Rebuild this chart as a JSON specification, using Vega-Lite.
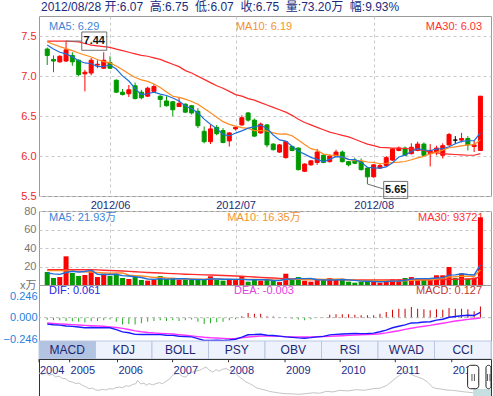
{
"$schema": "https://vega.github.io/schema/vega-lite/v6.json",
"padding": 0,
"background": "white",
"bounds": "flush",
"spacing": 15,
"config": {
  "font": "Liberation Sans, Noto Sans CJK SC, sans-serif",
  "view": {"stroke": "#9a9a9a"},
  "axis": {"domain": false, "ticks": false, "labelFontSize": 11, "title": null, "gridDash": [3, 3], "gridColor": "#c8c8c8", "labelOverlap": false}
},
"datasets": {
"d": [
{"i":0,"o":7.34,"h":7.36,"l":7.14,"c":7.26,"m5":7.39,"m10":7.43,"m30":7.44,"v":14.0,"v5":13.0,"v10":15.5,"v30":16.5,"dif":-0.073,"dea":-0.060,"mh":-0.025},
{"i":1,"o":7.21,"h":7.26,"l":7.05,"c":7.19,"m5":7.34,"m10":7.40,"m30":7.44,"v":7.6,"v5":12.0,"v10":15.5,"v30":16.5,"dif":-0.080,"dea":-0.065,"mh":-0.030},
{"i":2,"o":7.18,"h":7.26,"l":7.17,"c":7.25,"m5":7.30,"m10":7.37,"m30":7.44,"v":8.6,"v5":11.5,"v10":15.5,"v30":16.5,"dif":-0.085,"dea":-0.070,"mh":-0.030},
{"i":3,"o":7.19,"h":7.44,"l":7.18,"c":7.33,"m5":7.28,"m10":7.345,"m30":7.44,"v":31.0,"v5":13.5,"v10":15.3,"v30":16.5,"dif":-0.094,"dea":-0.075,"mh":-0.037},
{"i":4,"o":7.26,"h":7.30,"l":7.13,"c":7.18,"m5":7.242,"m10":7.32,"m30":7.435,"v":13.0,"v5":14.84,"v10":15.0,"v30":16.5,"dif":-0.099,"dea":-0.079,"mh":-0.040},
{"i":5,"o":7.20,"h":7.21,"l":7.00,"c":7.02,"m5":7.194,"m10":7.29,"m30":7.43,"v":9.8,"v5":14.0,"v10":14.5,"v30":16.5,"dif":-0.106,"dea":-0.083,"mh":-0.045},
{"i":6,"o":7.03,"h":7.08,"l":6.81,"c":7.05,"m5":7.166,"m10":7.265,"m30":7.41,"v":10.8,"v5":14.64,"v10":14.2,"v30":16.5,"dif":-0.115,"dea":-0.087,"mh":-0.056},
{"i":7,"o":7.04,"h":7.23,"l":7.01,"c":7.20,"m5":7.156,"m10":7.24,"m30":7.39,"v":15.5,"v5":16.02,"v10":14.0,"v30":16.5,"dif":-0.111,"dea":-0.091,"mh":-0.040},
{"i":8,"o":7.14,"h":7.20,"l":7.10,"c":7.15,"m5":7.12,"m10":7.21,"m30":7.38,"v":8.6,"v5":11.54,"v10":13.5,"v30":16.3,"dif":-0.114,"dea":-0.095,"mh":-0.037},
{"i":9,"o":7.10,"h":7.30,"l":7.09,"c":7.20,"m5":7.124,"m10":7.183,"m30":7.37,"v":12.2,"v5":11.38,"v10":13.11,"v30":16.0,"dif":-0.113,"dea":-0.098,"mh":-0.030},
{"i":10,"o":7.17,"h":7.25,"l":7.09,"c":7.10,"m5":7.14,"m10":7.167,"m30":7.36,"v":9.8,"v5":11.38,"v10":12.69,"v30":15.7,"dif":-0.115,"dea":-0.104,"mh":-0.022},
{"i":11,"o":6.95,"h":6.96,"l":6.79,"c":6.80,"m5":7.09,"m10":7.128,"m30":7.34,"v":12.2,"v5":11.66,"v10":13.15,"v30":15.4,"dif":-0.135,"dea":-0.112,"mh":-0.045},
{"i":12,"o":6.80,"h":6.84,"l":6.76,"c":6.77,"m5":7.004,"m10":7.08,"m30":7.32,"v":7.6,"v5":10.08,"v10":13.05,"v30":15.1,"dif":-0.162,"dea":-0.122,"mh":-0.079},
{"i":13,"o":6.78,"h":6.89,"l":6.74,"c":6.83,"m5":6.94,"m10":7.03,"m30":7.30,"v":6.5,"v5":9.66,"v10":10.6,"v30":14.7,"dif":-0.171,"dea":-0.135,"mh":-0.071},
{"i":14,"o":6.88,"h":6.92,"l":6.71,"c":6.72,"m5":6.844,"m10":6.984,"m30":7.28,"v":8.6,"v5":8.94,"v10":10.16,"v30":14.3,"dif":-0.190,"dea":-0.150,"mh":-0.079},
{"i":15,"o":6.80,"h":6.83,"l":6.71,"c":6.73,"m5":6.77,"m10":6.955,"m30":7.26,"v":5.4,"v5":8.06,"v10":9.72,"v30":13.9,"dif":-0.192,"dea":-0.160,"mh":-0.064},
{"i":16,"o":6.75,"h":6.87,"l":6.74,"c":6.85,"m5":6.78,"m10":6.935,"m30":7.25,"v":4.7,"v5":6.56,"v10":9.11,"v30":13.5,"dif":-0.191,"dea":-0.168,"mh":-0.045},
{"i":17,"o":6.81,"h":6.90,"l":6.80,"c":6.87,"m5":6.80,"m10":6.902,"m30":7.23,"v":5.4,"v5":6.12,"v10":8.1,"v30":13.2,"dif":-0.193,"dea":-0.174,"mh":-0.037},
{"i":18,"o":6.75,"h":6.76,"l":6.61,"c":6.71,"m5":6.776,"m10":6.858,"m30":7.21,"v":9.7,"v5":6.76,"v10":8.21,"v30":12.9,"dif":-0.193,"dea":-0.178,"mh":-0.030},
{"i":19,"o":6.69,"h":6.75,"l":6.62,"c":6.63,"m5":6.758,"m10":6.801,"m30":7.18,"v":6.5,"v5":6.34,"v10":7.64,"v30":12.6,"dif":-0.200,"dea":-0.181,"mh":-0.037},
{"i":20,"o":6.68,"h":6.69,"l":6.50,"c":6.58,"m5":6.728,"m10":6.749,"m30":7.15,"v":6.5,"v5":6.56,"v10":7.31,"v30":12.3,"dif":-0.201,"dea":-0.186,"mh":-0.030},
{"i":21,"o":6.62,"h":6.73,"l":6.62,"c":6.66,"m5":6.69,"m10":6.735,"m30":7.12,"v":5.8,"v5":6.78,"v10":6.67,"v30":12.0,"dif":-0.211,"dea":-0.192,"mh":-0.037},
{"i":22,"o":6.65,"h":6.66,"l":6.54,"c":6.55,"m5":6.626,"m10":6.713,"m30":7.07,"v":5.8,"v5":6.86,"v10":6.49,"v30":11.7,"dif":-0.215,"dea":-0.200,"mh":-0.030},
{"i":23,"o":6.63,"h":6.64,"l":6.52,"c":6.54,"m5":6.592,"m10":6.684,"m30":7.04,"v":5.8,"v5":6.08,"v10":6.42,"v30":11.5,"dif":-0.218,"dea":-0.207,"mh":-0.022},
{"i":24,"o":6.56,"h":6.60,"l":6.35,"c":6.38,"m5":6.542,"m10":6.65,"m30":7.00,"v":5.8,"v5":5.94,"v10":6.14,"v30":11.2,"dif":-0.238,"dea":-0.215,"mh":-0.045},
{"i":25,"o":6.31,"h":6.37,"l":6.16,"c":6.18,"m5":6.462,"m10":6.595,"m30":6.96,"v":5.8,"v5":5.8,"v10":6.18,"v30":11.0,"dif":-0.259,"dea":-0.223,"mh":-0.071},
{"i":26,"o":6.18,"h":6.39,"l":6.15,"c":6.34,"m5":6.398,"m10":6.544,"m30":6.92,"v":9.4,"v5":6.52,"v10":6.65,"v30":10.8,"dif":-0.260,"dea":-0.228,"mh":-0.064},
{"i":27,"o":6.36,"h":6.39,"l":6.26,"c":6.28,"m5":6.344,"m10":6.485,"m30":6.88,"v":5.4,"v5":6.44,"v10":6.65,"v30":10.5,"dif":-0.257,"dea":-0.231,"mh":-0.052},
{"i":28,"o":6.32,"h":6.35,"l":6.16,"c":6.17,"m5":6.27,"m10":6.431,"m30":6.85,"v":4.7,"v5":6.22,"v10":6.15,"v30":10.3,"dif":-0.258,"dea":-0.235,"mh":-0.045},
{"i":29,"o":6.19,"h":6.30,"l":6.12,"c":6.29,"m5":6.252,"m10":6.397,"m30":6.81,"v":5.4,"v5":6.14,"v10":6.04,"v30":10.0,"dif":-0.253,"dea":-0.238,"mh":-0.030},
{"i":30,"o":6.34,"h":6.37,"l":6.32,"c":6.36,"m5":6.288,"m10":6.375,"m30":6.77,"v":5.4,"v5":6.06,"v10":5.93,"v30":9.7,"dif":-0.245,"dea":-0.236,"mh":-0.018},
{"i":31,"o":6.39,"h":6.51,"l":6.38,"c":6.48,"m5":6.316,"m10":6.357,"m30":6.75,"v":9.4,"v5":6.06,"v10":6.29,"v30":9.4,"dif":-0.222,"dea":-0.230,"mh":0.016},
{"i":32,"o":6.54,"h":6.55,"l":6.43,"c":6.45,"m5":6.35,"m10":6.347,"m30":6.72,"v":3.6,"v5":5.7,"v10":6.07,"v30":9.0,"dif":-0.194,"dea":-0.220,"mh":0.053},
{"i":33,"o":6.45,"h":6.47,"l":6.24,"c":6.25,"m5":6.366,"m10":6.318,"m30":6.70,"v":5.4,"v5":5.84,"v10":6.03,"v30":8.6,"dif":-0.192,"dea":-0.214,"mh":0.045},
{"i":34,"o":6.29,"h":6.42,"l":6.28,"c":6.40,"m5":6.388,"m10":6.32,"m30":6.67,"v":4.7,"v5":5.7,"v10":5.92,"v30":8.2,"dif":-0.188,"dea":-0.210,"mh":0.045},
{"i":35,"o":6.39,"h":6.40,"l":6.11,"c":6.14,"m5":6.344,"m10":6.316,"m30":6.64,"v":5.8,"v5":5.78,"v10":5.92,"v30":7.9,"dif":-0.200,"dea":-0.208,"mh":0.016},
{"i":36,"o":6.15,"h":6.16,"l":6.07,"c":6.08,"m5":6.264,"m10":6.29,"m30":6.61,"v":5.0,"v5":4.9,"v10":5.48,"v30":7.5,"dif":-0.203,"dea":-0.209,"mh":0.012},
{"i":37,"o":6.05,"h":6.15,"l":6.04,"c":6.14,"m5":6.202,"m10":6.276,"m30":6.58,"v":3.2,"v5":4.82,"v10":5.26,"v30":7.2,"dif":-0.210,"dea":-0.212,"mh":0.005},
{"i":38,"o":5.98,"h":6.19,"l":5.97,"c":6.18,"m5":6.188,"m10":6.277,"m30":6.55,"v":12.2,"v5":6.18,"v10":6.01,"v30":6.9,"dif":-0.218,"dea":-0.215,"mh":-0.005},
{"i":39,"o":6.12,"h":6.13,"l":6.06,"c":6.07,"m5":6.122,"m10":6.255,"m30":6.51,"v":5.8,"v5":6.4,"v10":6.05,"v30":6.6,"dif":-0.224,"dea":-0.218,"mh":-0.011},
{"i":40,"o":6.10,"h":6.11,"l":5.82,"c":5.83,"m5":6.06,"m10":6.202,"m30":6.46,"v":8.6,"v5":6.96,"v10":6.37,"v30":6.3,"dif":-0.230,"dea":-0.219,"mh":-0.022},
{"i":41,"o":5.81,"h":5.91,"l":5.80,"c":5.90,"m5":6.024,"m10":6.144,"m30":6.42,"v":4.7,"v5":6.9,"v10":5.9,"v30":6.1,"dif":-0.234,"dea":-0.219,"mh":-0.030},
{"i":42,"o":5.89,"h":5.95,"l":5.88,"c":5.94,"m5":5.984,"m10":6.093,"m30":6.39,"v":3.6,"v5":6.98,"v10":5.9,"v30":6.0,"dif":-0.227,"dea":-0.218,"mh":-0.018},
{"i":43,"o":5.92,"h":6.09,"l":5.89,"c":6.05,"m5":5.958,"m10":6.073,"m30":6.36,"v":5.4,"v5":5.62,"v10":5.9,"v30":5.9,"dif":-0.218,"dea":-0.216,"mh":-0.003},
{"i":44,"o":6.01,"h":6.02,"l":5.91,"c":5.92,"m5":5.928,"m10":6.025,"m30":6.33,"v":5.4,"v5":5.54,"v10":5.97,"v30":5.8,"dif":-0.213,"dea":-0.214,"mh":0.003},
{"i":45,"o":5.93,"h":6.02,"l":5.92,"c":6.00,"m5":5.962,"m10":6.011,"m30":6.30,"v":7.6,"v5":5.34,"v10":6.15,"v30":5.7,"dif":-0.195,"dea":-0.212,"mh":0.034},
{"i":46,"o":6.00,"h":6.08,"l":5.99,"c":6.05,"m5":5.992,"m10":6.008,"m30":6.28,"v":5.8,"v5":5.56,"v10":6.23,"v30":5.6,"dif":-0.190,"dea":-0.209,"mh":0.038},
{"i":47,"o":6.05,"h":6.07,"l":5.92,"c":5.93,"m5":5.99,"m10":5.987,"m30":6.26,"v":5.4,"v5":5.92,"v10":6.45,"v30":5.6,"dif":-0.186,"dea":-0.205,"mh":0.038},
{"i":48,"o":5.93,"h":5.94,"l":5.87,"c":5.89,"m5":5.958,"m10":5.958,"m30":6.24,"v":3.6,"v5":5.56,"v10":5.59,"v30":5.5,"dif":-0.182,"dea":-0.201,"mh":0.038},
{"i":49,"o":5.95,"h":5.98,"l":5.90,"c":5.91,"m5":5.956,"m10":5.942,"m30":6.21,"v":2.5,"v5":4.98,"v10":5.26,"v30":5.5,"dif":-0.180,"dea":-0.197,"mh":0.034},
{"i":50,"o":5.93,"h":5.97,"l":5.82,"c":5.83,"m5":5.922,"m10":5.942,"m30":6.18,"v":3.6,"v5":4.18,"v10":4.76,"v30":5.4,"dif":-0.181,"dea":-0.194,"mh":0.027},
{"i":51,"o":5.85,"h":5.86,"l":5.65,"c":5.74,"m5":5.86,"m10":5.926,"m30":6.15,"v":5.4,"v5":4.1,"v10":4.83,"v30":5.4,"dif":-0.179,"dea":-0.192,"mh":0.027},
{"i":52,"o":5.74,"h":5.90,"l":5.73,"c":5.89,"m5":5.852,"m10":5.921,"m30":6.13,"v":3.6,"v5":3.74,"v10":4.83,"v30":5.4,"dif":-0.175,"dea":-0.188,"mh":0.027},
{"i":53,"o":5.85,"h":5.90,"l":5.84,"c":5.88,"m5":5.85,"m10":5.904,"m30":6.11,"v":2.5,"v5":3.52,"v10":4.54,"v30":5.4,"dif":-0.160,"dea":-0.182,"mh":0.045},
{"i":54,"o":5.88,"h":6.00,"l":5.87,"c":5.98,"m5":5.864,"m10":5.91,"m30":6.105,"v":3.6,"v5":3.74,"v10":4.36,"v30":5.4,"dif":-0.141,"dea":-0.173,"mh":0.064},
{"i":55,"o":5.95,"h":6.10,"l":5.94,"c":6.09,"m5":5.916,"m10":5.919,"m30":6.10,"v":6.1,"v5":4.24,"v10":4.21,"v30":5.4,"dif":-0.115,"dea":-0.160,"mh":0.091},
{"i":56,"o":6.07,"h":6.12,"l":6.06,"c":6.10,"m5":5.988,"m10":5.924,"m30":6.10,"v":6.1,"v5":4.38,"v10":4.24,"v30":5.4,"dif":-0.097,"dea":-0.148,"mh":0.102},
{"i":57,"o":6.10,"h":6.12,"l":6.00,"c":6.01,"m5":6.012,"m10":5.932,"m30":6.095,"v":7.6,"v5":5.18,"v10":4.46,"v30":5.4,"dif":-0.082,"dea":-0.133,"mh":0.102},
{"i":58,"o":6.03,"h":6.16,"l":6.02,"c":6.11,"m5":6.058,"m10":5.954,"m30":6.09,"v":8.6,"v5":6.4,"v10":4.96,"v30":5.5,"dif":-0.060,"dea":-0.120,"mh":0.121},
{"i":59,"o":6.07,"h":6.18,"l":6.06,"c":6.15,"m5":6.092,"m10":5.978,"m30":6.08,"v":6.1,"v5":6.9,"v10":5.32,"v30":5.5,"dif":-0.057,"dea":-0.108,"mh":0.102},
{"i":60,"o":6.15,"h":6.17,"l":6.00,"c":6.01,"m5":6.076,"m10":5.996,"m30":6.07,"v":6.0,"v5":6.88,"v10":5.56,"v30":5.6,"dif":-0.050,"dea":-0.097,"mh":0.095},
{"i":61,"o":6.03,"h":6.15,"l":5.87,"c":6.07,"m5":6.07,"m10":6.029,"m30":6.05,"v":7.0,"v5":7.06,"v10":5.72,"v30":5.7,"dif":-0.046,"dea":-0.087,"mh":0.083},
{"i":62,"o":6.05,"h":6.13,"l":6.01,"c":6.10,"m5":6.088,"m10":6.05,"m30":6.04,"v":10.5,"v5":7.64,"v10":6.41,"v30":5.8,"dif":-0.028,"dea":-0.075,"mh":0.095},
{"i":63,"o":6.01,"h":6.16,"l":5.97,"c":6.13,"m5":6.092,"m10":6.075,"m30":6.03,"v":10.5,"v5":8.02,"v10":7.21,"v30":5.9,"dif":-0.018,"dea":-0.063,"mh":0.091},
{"i":64,"o":6.14,"h":6.29,"l":6.13,"c":6.27,"m5":6.116,"m10":6.104,"m30":6.025,"v":19.5,"v5":10.7,"v10":8.8,"v30":6.1,"dif":0.005,"dea":-0.050,"mh":0.110},
{"i":65,"o":6.20,"h":6.25,"l":6.15,"c":6.20,"m5":6.154,"m10":6.115,"m30":6.02,"v":7.5,"v5":11.0,"v10":8.94,"v30":6.2,"dif":0.013,"dea":-0.038,"mh":0.102},
{"i":66,"o":6.20,"h":6.29,"l":6.17,"c":6.22,"m5":6.184,"m10":6.127,"m30":6.015,"v":12.5,"v5":12.1,"v10":9.58,"v30":6.4,"dif":0.021,"dea":-0.030,"mh":0.102},
{"i":67,"o":6.22,"h":6.25,"l":6.07,"c":6.14,"m5":6.192,"m10":6.14,"m30":6.01,"v":7.0,"v5":11.4,"v10":9.52,"v30":6.5,"dif":0.028,"dea":-0.020,"mh":0.095},
{"i":68,"o":6.12,"h":6.19,"l":6.05,"c":6.14,"m5":6.194,"m10":6.143,"m30":6.01,"v":8.0,"v5":10.9,"v10":9.46,"v30":6.7,"dif":0.024,"dea":-0.012,"mh":0.072},
{"i":69,"o":6.07,"h":6.75,"l":6.07,"c":6.75,"m5":6.29,"m10":6.203,"m30":6.03,"v":73.2,"v5":21.64,"v10":16.17,"v30":9.37,"dif":0.061,"dea":-0.003,"mh":0.127}
],
"ov": [
{"yr":2004.59,"p":24.9},{"yr":2004.65,"p":23.0},{"yr":2004.71,"p":25.5},{"yr":2004.77,"p":22.4},{"yr":2004.83,"p":23.5},{"yr":2004.89,"p":20.5},{"yr":2004.95,"p":21.5},{"yr":2005.01,"p":19.0},{"yr":2005.07,"p":18.7},{"yr":2005.13,"p":16.0},{"yr":2005.19,"p":15.1},{"yr":2005.25,"p":13.5},{"yr":2005.31,"p":14.0},{"yr":2005.37,"p":11.5},{"yr":2005.43,"p":10.0},{"yr":2005.49,"p":7.9},{"yr":2005.55,"p":8.5},{"yr":2005.61,"p":6.5},{"yr":2005.67,"p":6.1},{"yr":2005.73,"p":7.2},{"yr":2005.79,"p":6.5},{"yr":2005.85,"p":7.9},{"yr":2005.91,"p":7.5},{"yr":2005.97,"p":9.0},{"yr":2006.03,"p":9.7},{"yr":2006.09,"p":9.0},{"yr":2006.15,"p":11.0},{"yr":2006.21,"p":10.5},{"yr":2006.27,"p":12.5},{"yr":2006.33,"p":13.3},{"yr":2006.36,"p":16.9},{"yr":2006.42,"p":13.0},{"yr":2006.48,"p":14.0},{"yr":2006.51,"p":11.5},{"yr":2006.57,"p":13.5},{"yr":2006.63,"p":12.0},{"yr":2006.69,"p":13.3},{"yr":2006.75,"p":14.5},{"yr":2006.81,"p":13.3},{"yr":2006.87,"p":16.0},{"yr":2006.93,"p":18.0},{"yr":2006.99,"p":22.4},{"yr":2007.05,"p":24.0},{"yr":2007.11,"p":24.1},{"yr":2007.17,"p":21.0},{"yr":2007.23,"p":20.5},{"yr":2007.29,"p":25.0},{"yr":2007.35,"p":25.9},{"yr":2007.41,"p":27.0},{"yr":2007.47,"p":27.7},{"yr":2007.53,"p":29.5},{"yr":2007.59,"p":31.4},{"yr":2007.65,"p":28.0},{"yr":2007.71,"p":25.9},{"yr":2007.77,"p":28.5},{"yr":2007.83,"p":27.0},{"yr":2007.89,"p":29.0},{"yr":2007.95,"p":29.6},{"yr":2008.01,"p":28.0},{"yr":2008.07,"p":27.7},{"yr":2008.13,"p":24.0},{"yr":2008.19,"p":20.5},{"yr":2008.25,"p":18.0},{"yr":2008.31,"p":15.1},{"yr":2008.37,"p":13.5},{"yr":2008.43,"p":11.5},{"yr":2008.49,"p":9.0},{"yr":2008.55,"p":7.9},{"yr":2008.61,"p":7.0},{"yr":2008.67,"p":6.1},{"yr":2008.73,"p":5.0},{"yr":2008.79,"p":4.3},{"yr":2008.85,"p":3.8},{"yr":2008.91,"p":3.2},{"yr":2008.97,"p":2.8},{"yr":2009.03,"p":2.5},{"yr":2009.15,"p":2.2},{"yr":2009.27,"p":1.8},{"yr":2009.39,"p":2.6},{"yr":2009.51,"p":3.4},{"yr":2009.63,"p":3.0},{"yr":2009.75,"p":5.0},{"yr":2009.87,"p":4.4},{"yr":2009.99,"p":6.1},{"yr":2010.14,"p":5.5},{"yr":2010.29,"p":6.8},{"yr":2010.44,"p":6.2},{"yr":2010.59,"p":7.9},{"yr":2010.72,"p":8.5},{"yr":2010.84,"p":11.5},{"yr":2010.95,"p":16.9},{"yr":2011.01,"p":20.0},{"yr":2011.07,"p":22.4},{"yr":2011.13,"p":25.5},{"yr":2011.19,"p":27.0},{"yr":2011.25,"p":24.5},{"yr":2011.31,"p":22.4},{"yr":2011.37,"p":21.0},{"yr":2011.48,"p":18.7},{"yr":2011.57,"p":15.0},{"yr":2011.66,"p":9.7},{"yr":2011.72,"p":8.0},{"yr":2011.78,"p":7.9},{"yr":2011.9,"p":6.5},{"yr":2012.02,"p":6.1},{"yr":2012.14,"p":5.2},{"yr":2012.26,"p":4.3},{"yr":2012.38,"p":3.6},{"yr":2012.5,"p":2.8},{"yr":2012.6,"p":3.2},{"yr":2012.71,"p":4.3}
],
"yrs": [{"y":2004,"at":2004.59},{"y":2005,"at":2005.14},{"y":2006,"at":2006.0},{"y":2007,"at":2006.99},{"y":2008,"at":2007.995},{"y":2009,"at":2009.01},{"y":2010,"at":2010.0},{"y":2011,"at":2010.99},{"y":2012,"at":2012.005}],
"tabs": [{"n":"MACD"},{"n":"KDJ"},{"n":"BOLL"},{"n":"PSY"},{"n":"OBV"},{"n":"RSI"},{"n":"WVAD"},{"n":"CCI"}]
},
"vconcat": [
{
  "width": 452, "height": 180,
  "title": {"text": "2012/08/28 开:6.07 \u00a0高:6.75 \u00a0低:6.07 \u00a0收:6.75 \u00a0量:73.20万 \u00a0幅:9.93%", "anchor": "start", "frame": "group", "fontSize": 12, "fontWeight": "normal", "color": "#1a2b7c", "offset": 2, "dx": 2},
  "layer": [
    {"data": {"name": "d"}, "mark": {"type": "rule", "strokeWidth": 1},
     "encoding": {
       "x": {"field": "i", "type": "quantitative", "scale": {"domain": [-0.514, 69.89], "nice": false, "zero": false},
             "axis": {"values": [10, 30, 52], "labelExpr": "datum.value == 10 ? '2012/06' : datum.value == 30 ? '2012/07' : '2012/08'", "grid": true, "labelColor": "#1a2b7c", "labelPadding": 3, "minExtent": 15, "maxExtent": 15}},
       "y": {"field": "l", "type": "quantitative", "scale": {"domain": [5.5, 7.754], "nice": false, "zero": false},
             "axis": {"values": [5.5, 6, 6.5, 7, 7.5], "format": ".1f", "labelColor": "#ee2828", "grid": true, "labelPadding": 3, "minExtent": 38, "maxExtent": 38}},
       "y2": {"field": "h"},
       "color": {"condition": [{"test": "datum.c > datum.o", "value": "#ff0000"}, {"test": "datum.c < datum.o", "value": "#009a00"}], "value": "#000000"}
     }},
    {"data": {"name": "d"}, "mark": {"type": "bar", "width": 4, "strokeWidth": 1},
     "encoding": {
       "x": {"field": "i", "type": "quantitative"},
       "y": {"field": "o", "type": "quantitative"},
       "y2": {"field": "c"},
       "fill": {"condition": [{"test": "datum.c > datum.o", "value": "#ff0000"}, {"test": "datum.c < datum.o", "value": "#009a00"}], "value": "#000000"},
       "stroke": {"condition": [{"test": "datum.c > datum.o", "value": "#ff0000"}, {"test": "datum.c < datum.o", "value": "#009a00"}], "value": "#000000"}
     }},
    {"data": {"name": "d"}, "mark": {"type": "line", "color": "#ff2a2a", "strokeWidth": 1.2}, "encoding": {"x": {"field": "i", "type": "quantitative"}, "y": {"field": "m30", "type": "quantitative"}}},
    {"data": {"name": "d"}, "mark": {"type": "line", "color": "#ff8a1f", "strokeWidth": 1.2}, "encoding": {"x": {"field": "i", "type": "quantitative"}, "y": {"field": "m10", "type": "quantitative"}}},
    {"data": {"name": "d"}, "mark": {"type": "line", "color": "#1e6fd9", "strokeWidth": 1.2}, "encoding": {"x": {"field": "i", "type": "quantitative"}, "y": {"field": "m5", "type": "quantitative"}}},
    {"data": {"values": [{"t": "MA5: 6.29"}]}, "mark": {"type": "text", "align": "left", "baseline": "middle", "fontSize": 11, "color": "#3d85d8"},
     "encoding": {"x": {"datum": 0.3, "type": "quantitative"}, "y": {"datum": 7.616, "type": "quantitative"}, "text": {"field": "t", "type": "nominal"}}},
    {"data": {"values": [{"t": "MA10: 6.19"}]}, "mark": {"type": "text", "align": "center", "baseline": "middle", "fontSize": 11, "color": "#f5922e"},
     "encoding": {"x": {"datum": 34.53, "type": "quantitative"}, "y": {"datum": 7.616, "type": "quantitative"}, "text": {"field": "t", "type": "nominal"}}},
    {"data": {"values": [{"t": "MA30: 6.03"}]}, "mark": {"type": "text", "align": "right", "baseline": "middle", "fontSize": 11, "color": "#ff3030"},
     "encoding": {"x": {"datum": 69.27, "type": "quantitative"}, "y": {"datum": 7.616, "type": "quantitative"}, "text": {"field": "t", "type": "nominal"}}},
    {"data": {"values": [{"i": 3, "p": 7.44, "t": "7.44"}]}, "mark": {"type": "point", "shape": "M0,0H1.57M1.57,-0.91H4.07V0.92H1.57Z", "size": 400, "filled": false, "stroke": "#707070", "strokeWidth": 1, "opacity": 1},
     "encoding": {"x": {"field": "i", "type": "quantitative"}, "y": {"field": "p", "type": "quantitative"}}},
    {"data": {"values": [{"i": 3, "p": 7.44, "t": "7.44"}]}, "mark": {"type": "text", "align": "center", "baseline": "middle", "fontSize": 11, "fontWeight": "bold", "color": "#111111", "dx": 28.2},
     "encoding": {"x": {"field": "i", "type": "quantitative"}, "y": {"field": "p", "type": "quantitative"}, "text": {"field": "t", "type": "nominal"}}},
    {"data": {"values": [{"i": 51, "p": 5.65, "t": "5.65"}]}, "mark": {"type": "point", "shape": "M0,0L1.63,0.5M1.63,-0.26H4.03V1.44H1.63Z", "size": 400, "filled": false, "stroke": "#707070", "strokeWidth": 1, "opacity": 1},
     "encoding": {"x": {"field": "i", "type": "quantitative"}, "y": {"field": "p", "type": "quantitative"}}},
    {"data": {"values": [{"i": 51, "p": 5.65, "t": "5.65"}]}, "mark": {"type": "text", "align": "center", "baseline": "middle", "fontSize": 11, "fontWeight": "bold", "color": "#111111", "dx": 28.3, "dy": 6},
     "encoding": {"x": {"field": "i", "type": "quantitative"}, "y": {"field": "p", "type": "quantitative"}, "text": {"field": "t", "type": "nominal"}}}
  ]
},
{
  "bounds": "flush",
  "spacing": 0,
  "vconcat": [
    {
      "width": 452, "height": 74,
      "layer": [
        {"data": {"values": [{"t": "MA5: 21.93万"}]}, "mark": {"type": "text", "align": "left", "baseline": "middle", "fontSize": 11, "color": "#3d85d8"},
         "encoding": {"x": {"datum": 0.3, "type": "quantitative"}, "y": {"datum": 72.8, "type": "quantitative"}, "text": {"field": "t", "type": "nominal"}}},
        {"data": {"values": [{"t": "MA10: 16.35万"}]}, "mark": {"type": "text", "align": "center", "baseline": "middle", "fontSize": 11, "color": "#f5922e"},
         "encoding": {"x": {"datum": 34.53, "type": "quantitative"}, "y": {"datum": 72.8, "type": "quantitative"}, "text": {"field": "t", "type": "nominal"}}},
        {"data": {"values": [{"t": "MA30: 93721"}]}, "mark": {"type": "text", "align": "right", "baseline": "middle", "fontSize": 11, "color": "#ff3030"},
         "encoding": {"x": {"datum": 69.5, "type": "quantitative"}, "y": {"datum": 72.8, "type": "quantitative"}, "text": {"field": "t", "type": "nominal"}}},
        {"data": {"name": "d"}, "mark": {"type": "bar", "width": 5},
         "encoding": {
           "x": {"field": "i", "type": "quantitative", "scale": {"domain": [-0.514, 69.89], "nice": false, "zero": false},
                 "axis": {"values": [10, 30, 52], "labels": false, "grid": true, "minExtent": 0, "maxExtent": 0}},
           "y": {"field": "v", "type": "quantitative", "scale": {"domain": [0, 80], "nice": false},
                 "axis": {"values": [20, 40, 60, 80], "tickCount": 4, "labelOverlap": false, "labelColor": "#777777", "grid": true, "labelPadding": 3, "minExtent": 38, "maxExtent": 38,
                          "title": "x万", "titleAngle": 0, "titleX": -3, "titleY": 74, "titleAlign": "right", "titleBaseline": "middle", "titleFontWeight": "normal", "titleFontSize": 11, "titleColor": "#707070"}},
           "color": {"condition": {"test": "datum.c > datum.o", "value": "#ff0000"}, "value": "#009a00"}}},
        {"data": {"name": "d"}, "mark": {"type": "line", "color": "#ff2a2a", "strokeWidth": 1.4}, "encoding": {"x": {"field": "i", "type": "quantitative"}, "y": {"field": "v30", "type": "quantitative"}}},
        {"data": {"name": "d"}, "mark": {"type": "line", "color": "#ff8a1f", "strokeWidth": 1.4}, "encoding": {"x": {"field": "i", "type": "quantitative"}, "y": {"field": "v10", "type": "quantitative"}}},
        {"data": {"name": "d"}, "mark": {"type": "line", "color": "#1e6fd9", "strokeWidth": 1.4}, "encoding": {"x": {"field": "i", "type": "quantitative"}, "y": {"field": "v5", "type": "quantitative"}}}
      ]
    },
    {
      "width": 452, "height": 56,
      "layer": [
        {"data": {"name": "d"}, "mark": {"type": "bar", "width": 1},
         "encoding": {"x": {"field": "i", "type": "quantitative", "scale": {"domain": [-0.514, 69.89], "nice": false, "zero": false}, "axis": null},
                      "y": {"field": "mh", "type": "quantitative", "scale": {"domain": [-0.265, 0.371], "nice": false, "zero": false},
                            "axis": {"values": [-0.246, 0, 0.246], "tickCount": 3, "labelOverlap": false, "format": ".3f", "labelColor": "#1f7fe0", "grid": false, "labelPadding": 2, "minExtent": 38, "maxExtent": 38}},
                      "color": {"condition": {"test": "datum.mh > 0", "value": "#cc0000"}, "value": "#22b022"}}},
        {"data": {"values": [{"z": 0}]}, "mark": {"type": "rule", "color": "#bbbbbb", "strokeDash": [3, 3]},
         "encoding": {"y": {"field": "z", "type": "quantitative"}}},
        {"data": {"name": "d"}, "mark": {"type": "line", "color": "#ff33ff", "strokeWidth": 1.4}, "encoding": {"x": {"field": "i", "type": "quantitative"}, "y": {"field": "dea", "type": "quantitative"}}},
        {"data": {"name": "d"}, "mark": {"type": "line", "color": "#1a1aff", "strokeWidth": 1.4}, "encoding": {"x": {"field": "i", "type": "quantitative"}, "y": {"field": "dif", "type": "quantitative"}}},
        {"data": {"values": [{"t": "DIF: 0.061"}]}, "mark": {"type": "text", "align": "left", "baseline": "middle", "fontSize": 11, "color": "#2828e0"},
         "encoding": {"x": {"datum": 0.3, "type": "quantitative"}, "y": {"datum": 0.303, "type": "quantitative"}, "text": {"field": "t", "type": "nominal"}}},
        {"data": {"values": [{"t": "DEA: -0.003"}]}, "mark": {"type": "text", "align": "center", "baseline": "middle", "fontSize": 11, "color": "#e040e0"},
         "encoding": {"x": {"datum": 34.53, "type": "quantitative"}, "y": {"datum": 0.303, "type": "quantitative"}, "text": {"field": "t", "type": "nominal"}}},
        {"data": {"values": [{"t": "MACD: 0.127"}]}, "mark": {"type": "text", "align": "right", "baseline": "middle", "fontSize": 11, "color": "#c03838"},
         "encoding": {"x": {"datum": 69.27, "type": "quantitative"}, "y": {"datum": 0.303, "type": "quantitative"}, "text": {"field": "t", "type": "nominal"}}}
      ]
    },
    {
      "width": 452, "height": 18,
      "view": {"stroke": "#b9c6e2"},
      "data": {"name": "tabs"},
      "layer": [
        {"mark": {"type": "bar", "stroke": "#b9c6e2", "strokeWidth": 1},
         "encoding": {"x": {"field": "n", "type": "nominal", "sort": null, "scale": {"paddingInner": 0, "paddingOuter": 0}, "axis": null},
                      "fill": {"condition": {"test": "datum.n == 'MACD'", "value": "#b3c3e2"}, "value": "#eef2fc"}}},
        {"mark": {"type": "text", "fontSize": 12, "color": "#1b2773", "baseline": "middle"},
         "encoding": {"x": {"field": "n", "type": "nominal", "sort": null}, "text": {"field": "n", "type": "nominal"}}}
      ]
    },
    {
      "width": 452, "height": 37,
      "view": {"stroke": "#333333"},
      "layer": [
        {"data": {"name": "ov"}, "mark": {"type": "line", "color": "#c4c4c4", "strokeWidth": 1},
         "encoding": {"x": {"field": "yr", "type": "quantitative", "scale": {"domain": [2004.59, 2012.71], "nice": false, "zero": false, "clamp": true}, "axis": null},
                      "y": {"field": "p", "type": "quantitative", "scale": {"domain": [0, 40], "nice": false}, "axis": null}}},
        {"data": {"values": [{"t": "laserfan", "yr": 2007.83, "p": 9.7}]}, "mark": {"type": "text", "fontSize": 17, "color": "#ffffff", "opacity": 0.9, "baseline": "middle"},
         "encoding": {"x": {"field": "yr", "type": "quantitative"}, "y": {"field": "p", "type": "quantitative"}, "text": {"field": "t", "type": "nominal"}}},
        {"data": {"name": "yrs"}, "mark": {"type": "rule", "color": "#333333"},
         "encoding": {"x": {"field": "at", "type": "quantitative"}, "y": {"datum": 40, "type": "quantitative"}, "y2": {"datum": 36.5}}},
        {"data": {"name": "yrs"}, "mark": {"type": "text", "align": "left", "baseline": "middle", "fontSize": 11, "color": "#1a2b8a", "dx": 1},
         "encoding": {"x": {"field": "at", "type": "quantitative"}, "y": {"datum": 27, "type": "quantitative"}, "text": {"field": "y", "type": "nominal"}}},
        {"data": {"values": [{"a": 2012.39, "b": 2012.71}]}, "mark": {"type": "rect", "fill": "#c6dfe0"},
         "encoding": {"x": {"field": "a", "type": "quantitative"}, "x2": {"field": "b"}, "y": {"datum": 0, "type": "quantitative"}, "y2": {"datum": 7.6}}},
        {"data": {"values": [{"a": 2012.29, "b": 2012.49}, {"a": 2012.62, "b": 2012.77}]}, "mark": {"type": "rect", "fill": "#ffffff", "stroke": "#222222", "strokeWidth": 1, "cornerRadius": 3},
         "encoding": {"x": {"field": "a", "type": "quantitative"}, "x2": {"field": "b"}, "y": {"datum": 7.9, "type": "quantitative"}, "y2": {"datum": 33.2}}},
        {"data": {"values": [{"a": 2012.39}, {"a": 2012.67}]}, "mark": {"type": "point", "shape": "M-0.35,-1V1M0.35,-1V1", "size": 49, "filled": false, "stroke": "#555555", "strokeWidth": 1, "opacity": 1},
         "encoding": {"x": {"field": "a", "type": "quantitative"}, "y": {"datum": 20, "type": "quantitative"}}}
      ]
    }
  ]
}
]
}
